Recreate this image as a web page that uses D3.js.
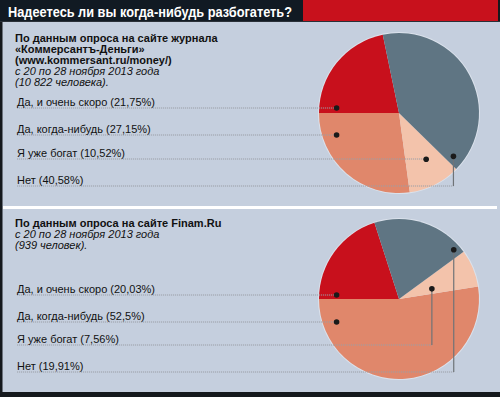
<!DOCTYPE html>
<html>
<head>
<meta charset="utf-8">
<script src="https://cdn.jsdelivr.net/npm/d3@7"></script>
<style>
  body { margin: 0; background: #fff; }
  svg { display: block; }
</style>
</head>
<body>
<div id="chart"></div>
<script>
// Data
const title = "Надеетесь ли вы когда-нибудь разбогатеть?";
const categories = ["Да, и очень скоро", "Да, когда-нибудь", "Я уже богат", "Нет"];
const kommersantValues = [21.75, 27.15, 10.52, 40.58];
const finamValues = [20.03, 52.5, 7.56, 19.91];
const kommersantNote = ["По данным опроса на сайте журнала", "«Коммерсантъ-Деньги»", "(www.kommersant.ru/money/)"];
const kommersantDates = ["с 20 по 28 ноября 2013 года", "(10 822 человека)."];
const finamNote = ["По данным опроса на сайте Finam.Ru"];
const finamDates = ["с 20 по 28 ноября 2013 года", "(939 человек)."];

// Set up the visualization
const width = 500;
const height = 397;
const bg = "#c5cfde";
const colorScale = d3.scaleOrdinal()
  .domain(categories)
  .range(["#c8101c", "#e0876b", "#f3c3ab", "#5f7583"]);
// slices go clockwise from 9 o'clock in this order
const sliceOrder = [0, 3, 2, 1];
const fmt = v => String(v).replace(".", ",");

const svg = d3.select("#chart")
  .append("svg")
  .attr("width", width)
  .attr("height", height);

svg.append("rect")
  .attr("width", width).attr("height", height)
  .attr("fill", bg);

// frame
svg.append("rect").attr("x", 0).attr("y", 0).attr("width", 2.5).attr("height", height).attr("fill", "#15191d");
svg.append("rect").attr("x", 0).attr("y", 392).attr("width", width).attr("height", 5).attr("fill", "#15191d");
svg.append("rect").attr("x", 3).attr("y", 206).attr("width", 494).attr("height", 3).attr("fill", "#fff");

// title bar
svg.append("rect").attr("x", 0).attr("y", 0).attr("width", 303).attr("height", 21).attr("fill", "#111a23");
svg.append("rect").attr("x", 303).attr("y", 0).attr("width", 195).attr("height", 21).attr("fill", "#c8111c");
svg.append("rect").attr("x", 498).attr("y", 0).attr("width", 2).attr("height", 22).attr("fill", "#15191d");
svg.append("rect").attr("x", 0).attr("y", 21).attr("width", width).attr("height", 1).attr("fill", "#2a3038");

svg.append("text")
  .attr("x", 8)
  .attr("y", 16.5)
  .attr("fill", "#fff")
  .attr("textLength", 284)
  .attr("lengthAdjust", "spacingAndGlyphs")
  .style("font-family", "'Liberation Sans', Arial, sans-serif")
  .style("font-weight", "bold")
  .style("font-size", "14.5px")
  .text(title);

function drawPanel(cfg) {
  const g = svg.append("g");
  const radius = 80;

  // heading text
  cfg.note.forEach((t, i) => {
    g.append("text")
      .attr("x", 15)
      .attr("y", cfg.noteY + i * cfg.lineStep)
      .style("font-family", "'Liberation Sans', Arial, sans-serif")
      .style("font-weight", "bold")
      .style("font-size", "11px")
      .attr("fill", "#111")
      .text(t);
  });
  cfg.dates.forEach((t, i) => {
    g.append("text")
      .attr("x", 15)
      .attr("y", cfg.noteY + (cfg.note.length + i) * cfg.lineStep)
      .style("font-family", "'Liberation Sans', Arial, sans-serif")
      .style("font-style", "italic")
      .style("font-size", "11px")
      .attr("fill", "#111")
      .text(t);
  });

  // pie
  const items = categories.map((c, i) => ({ name: c, value: cfg.values[i], idx: i }));
  const pie = d3.pie()
    .value(d => d.value)
    .sort((a, b) => sliceOrder.indexOf(a.idx) - sliceOrder.indexOf(b.idx))
    .startAngle(-Math.PI / 2)
    .endAngle(Math.PI * 1.5);
  const arcs = pie(items);
  const arc = d3.arc().innerRadius(0).outerRadius(radius);

  const pg = g.append("g").attr("transform", `translate(${cfg.cx},${cfg.cy})`);
  pg.append("circle").attr("r", radius + 1).attr("fill", "#dbe2ec");
  pg.selectAll("path")
    .data(arcs)
    .enter()
    .append("path")
    .attr("d", arc)
    .attr("fill", d => colorScale(d.data.name));

  // labels + leader lines
  arcs.forEach(a => {
    const i = a.data.idx;
    const rowY = cfg.rows[i];
    const anchor = cfg.anchors[i];
    let dx, dy;
    if (anchor.onRow) {
      dx = cfg.cx + anchor.x * radius;
      dy = rowY;
    } else {
      const ang = a.startAngle + anchor.t * (a.endAngle - a.startAngle);
      dx = cfg.cx + Math.sin(ang) * radius * anchor.k;
      dy = cfg.cy - Math.cos(ang) * radius * anchor.k;
    }

    g.append("line")
      .attr("x1", 17).attr("x2", dx)
      .attr("y1", rowY).attr("y2", rowY)
      .attr("stroke", "#9a9fa6")
      .attr("stroke-width", 1)
      .attr("stroke-dasharray", "1.2,0.8");

    if (!anchor.onRow) {
      g.append("line")
        .attr("x1", dx).attr("x2", dx)
        .attr("y1", dy).attr("y2", rowY)
        .attr("stroke", "#6f7377")
        .attr("stroke-width", 1.2);
    }

    g.append("circle")
      .attr("cx", dx).attr("cy", dy)
      .attr("r", 2.8)
      .attr("fill", "#1a1a1a");

    g.append("text")
      .attr("x", 17)
      .attr("y", rowY - 2.5)
      .style("font-family", "'Liberation Sans', Arial, sans-serif")
      .style("font-size", "11px")
      .attr("fill", "#111")
      .text(`${a.data.name} (${fmt(a.data.value)}%)`);
  });
}

drawPanel({
  values: kommersantValues,
  note: kommersantNote,
  dates: kommersantDates,
  noteY: 42,
  lineStep: 11,
  cx: 399, cy: 113,
  rows: [108, 135, 159, 186],
  anchors: [
    { onRow: true, x: -0.78 },
    { onRow: true, x: -0.78 },
    { t: 0.4, k: 0.67 },
    { t: 0.96, k: 0.87 }
  ]
});

drawPanel({
  values: finamValues,
  note: finamNote,
  dates: finamDates,
  noteY: 226.5,
  lineStep: 11,
  cx: 399, cy: 299,
  rows: [295, 322, 345, 372],
  anchors: [
    { onRow: true, x: -0.78 },
    { onRow: true, x: -0.78 },
    { t: 0.7, k: 0.43 },
    { t: 0.92, k: 0.92 }
  ]
});
</script>
</body>
</html>
